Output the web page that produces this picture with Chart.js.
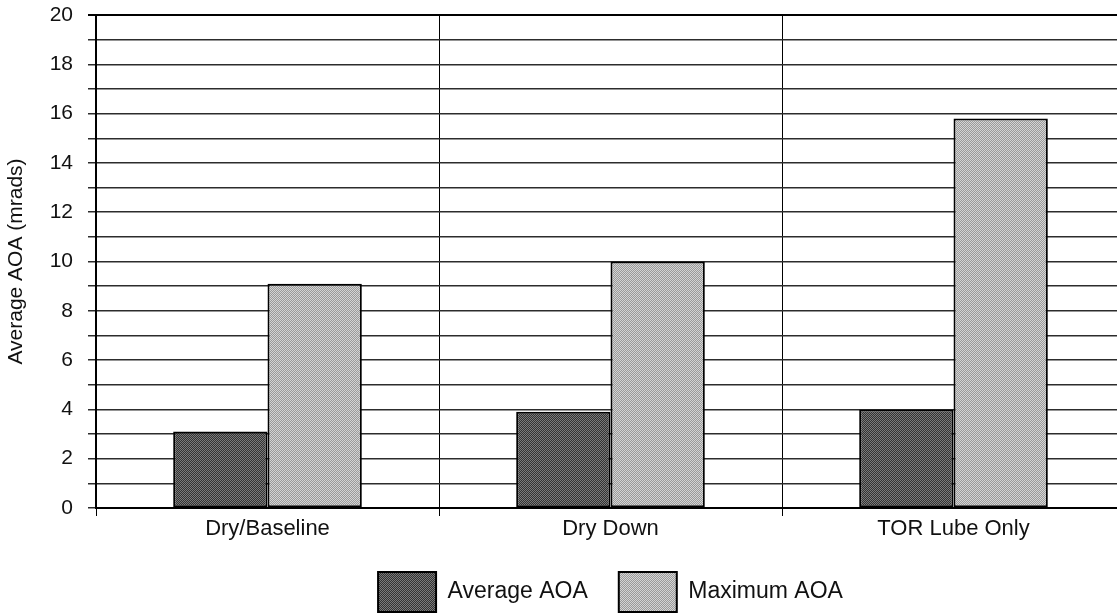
<!DOCTYPE html>
<html>
<head>
<meta charset="utf-8">
<script src="https://cdn.jsdelivr.net/npm/chart.js@4"></script>
<style>
  html, body { margin: 0; padding: 0; background: #fff; }
  #clip { width: 1117px; height: 613px; overflow: hidden; position: relative; }
  /* the scanned plot runs a little past the right and bottom edge */
  #wrap { width: 1125px; height: 622px; position: relative; }
</style>
</head>
<body>
<div id="clip"><div id="wrap"><canvas id="aoaChart"></canvas></div></div>
<script>
const categories = ['Dry/Baseline', 'Dry Down', 'TOR Lube Only'];
const seriesNames = ['Average AOA', 'Maximum AOA'];
const averageAoa = [3.1, 3.9, 4.0];
const maximumAoa = [9.1, 10.0, 15.8];
const yMin = 0, yMax = 20, yStep = 1;
const yLabelEvery = 2;

// halftone-ish fill, like the scanned original
function stipple(a, b) {
    const c = document.createElement('canvas');
    c.width = 2; c.height = 2;
    const g = c.getContext('2d');
    g.fillStyle = a; g.fillRect(0, 0, 2, 2);
    g.fillStyle = b; g.fillRect(0, 0, 1, 1); g.fillRect(1, 1, 1, 1);
    return g.createPattern(c, 'repeat');
}
const darkFill = stipple('#333333', '#7a7a7a');
const lightFill = stipple('#9a9a9a', '#d4d4d4');

Chart.defaults.font.family = '"Liberation Sans", Arial, sans-serif';
Chart.defaults.color = '#111';

const ctx = document.getElementById('aoaChart').getContext('2d');
new Chart(ctx, {
    type: 'bar',
    data: {
        labels: categories,
        datasets: [
            { label: seriesNames[0], data: averageAoa, backgroundColor: darkFill, borderColor: '#000', borderWidth: 2, borderSkipped: false },
            { label: seriesNames[1], data: maximumAoa, backgroundColor: lightFill, borderColor: '#000', borderWidth: 2, borderSkipped: false }
        ]
    },
    options: {
        responsive: true,
        maintainAspectRatio: false,
        animation: false,
        layout: { padding: { top: 15, right: 0, left: 0, bottom: 0 } },
        datasets: { bar: { categoryPercentage: 0.55, barPercentage: 1.0 } },
        plugins: {
            tooltip: { enabled: false },
            legend: {
                position: 'bottom',
                fullSize: false,
                labels: {
                    boxWidth: 58, boxHeight: 40, padding: 31,
                    font: { size: 23 }, color: '#111'
                }
            }
        },
        scales: {
            x: {
                grid: { offset: true, color: '#000', lineWidth: 1, tickLength: 8 },
                border: { color: '#000', width: 2 },
                ticks: { font: { size: 22 }, padding: 0, color: '#111' },
                afterFit: s => { s.height = 33; s.paddingTop = 0; }
            },
            y: {
                min: yMin, max: yMax,
                border: { color: '#000', width: 2 },
                grid: {
                    tickLength: 8,
                    color: c => c.tick && c.tick.value === yMax ? '#000' : '#2c2c2c',
                    lineWidth: c => c.tick && c.tick.value === yMax ? 2 : 1.5
                },
                ticks: {
                    stepSize: yStep, autoSkip: false, padding: 15,
                    font: { size: 21 }, color: '#111',
                    callback: v => v % yLabelEvery === 0 ? v : ''
                },
                title: { display: true, text: 'Average AOA (mrads)', font: { size: 21 }, color: '#111', padding: { top: 4, bottom: 0 } },
                afterFit: s => { s.width = 96; s.paddingTop = 0; s.paddingBottom = 0; }
            }
        }
    }
});
</script>
</body>
</html>
